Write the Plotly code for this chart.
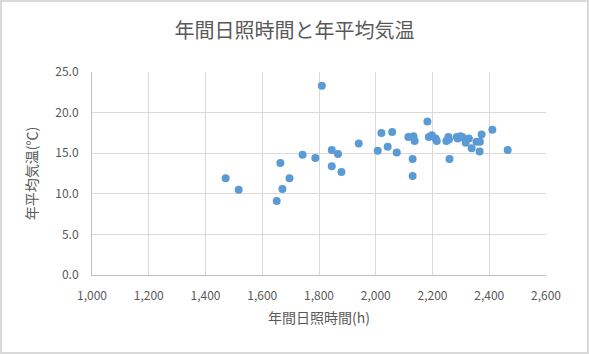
import plotly.graph_objects as go

sunshine_hours = [1810, 1471, 1517, 1664, 1696, 1671, 1651, 1742, 1787, 1845, 1867, 1845,
                  1879, 1940, 2020, 2058, 2007, 2042, 2074, 2115, 2133, 2137, 2130, 2130,
                  2182, 2187, 2198, 2211, 2215, 2249, 2256, 2258, 2260, 2286, 2299, 2289,
                  2305, 2317, 2328, 2338, 2355, 2367, 2366, 2373, 2411, 2465]
mean_temp = [23.3, 11.9, 10.5, 13.8, 11.9, 10.6, 9.1, 14.8, 14.4, 15.4, 14.9, 13.4,
             12.7, 16.2, 17.5, 17.6, 15.3, 15.8, 15.1, 17.0, 17.1, 16.5, 14.3, 12.2,
             18.9, 17.0, 17.2, 16.8, 16.5, 16.5, 17.0, 16.7, 14.3, 17.0, 17.1, 16.8,
             17.0, 16.3, 16.8, 15.6, 16.4, 16.4, 15.2, 17.3, 17.9, 15.4]

W, H = 589, 354
ml, mr, mt, mb = 92, 43, 72, 79
pw, ph = W - ml - mr, H - mt - mb

font_fam = "Noto Sans CJK JP, Noto Sans, sans-serif"
grey = "#595959"

fig = go.Figure(go.Scatter(
    x=sunshine_hours, y=mean_temp, mode="markers",
    marker=dict(color="#5B9BD5", size=8, line=dict(width=0)),
))

fig.update_layout(
    width=W, height=H,
    margin=dict(l=ml, r=mr, t=mt, b=mb),
    paper_bgcolor="white", plot_bgcolor="white",
    showlegend=False,
    font=dict(family=font_fam, color=grey, size=12),
    title=dict(text="年間日照時間と年平均気温", x=0.5, xanchor="center",
               y=1 - 31 / H, yanchor="middle",
               font=dict(size=20, color=grey, family=font_fam)),
    xaxis=dict(range=[1000, 2600], dtick=200, tickformat=",d",
               showgrid=True, gridcolor="#d9d9d9", gridwidth=1,
               zeroline=False, showline=True, linecolor="#bfbfbf", ticks="",
               ticklabelstandoff=10,
               tickfont=dict(size=12, color=grey),
               title=dict(text="年間日照時間(h)", font=dict(size=14, color=grey), standoff=10)),
    yaxis=dict(range=[0, 25], dtick=5, tickformat=".1f",
               showgrid=True, gridcolor="#d9d9d9", gridwidth=1,
               zeroline=False, showline=True, linecolor="#bfbfbf", ticks="",
               ticklabelstandoff=10,
               tickfont=dict(size=12, color=grey),
               title=dict(text="年平均気温(℃)", font=dict(size=14, color=grey), standoff=14)),
)

# outer chart border
fig.add_shape(type="rect", xref="paper", yref="paper",
              x0=-(ml - 1) / pw, x1=1 + (mr - 1) / pw,
              y0=-(mb - 1) / ph, y1=1 + (mt - 1) / ph,
              line=dict(color="#d9d9d9", width=2), fillcolor="rgba(0,0,0,0)", layer="below")

fig.write_html("out.html")
